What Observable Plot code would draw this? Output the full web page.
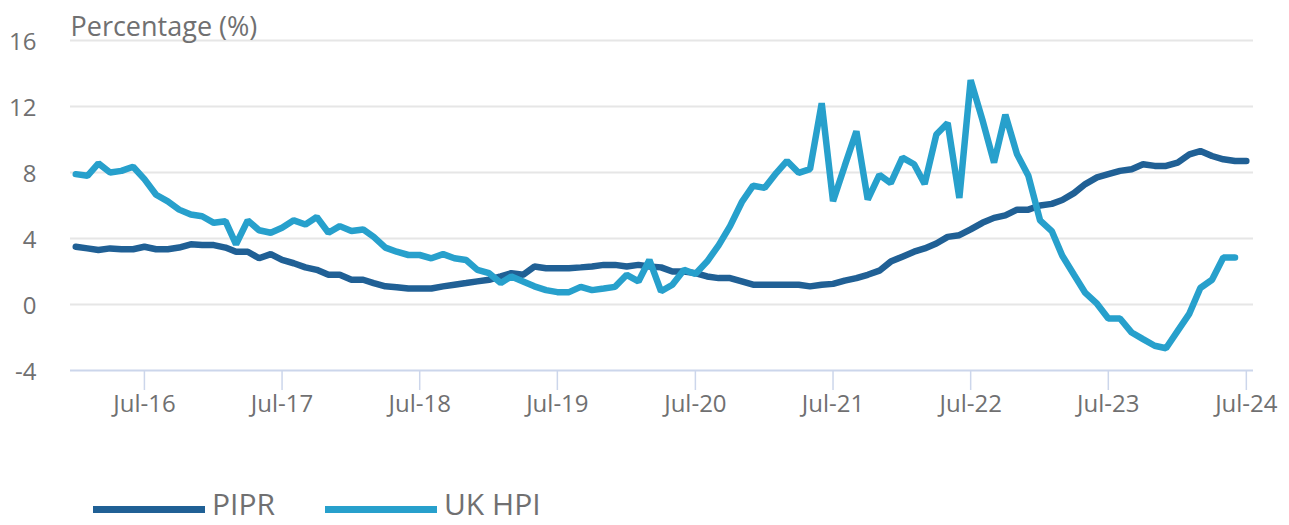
<!DOCTYPE html>
<html><head><meta charset="utf-8">
<script src="https://cdn.jsdelivr.net/npm/d3@7"></script>
<script src="https://cdn.jsdelivr.net/npm/@observablehq/plot@0.6"></script>
<style>
body{margin:0;background:#fff;font-family:"Open Sans",sans-serif;overflow:hidden;position:relative;height:525px;}
#chart{position:absolute;left:0;top:0;}
.sw{position:absolute;width:112px;height:7px;top:506px;}
.lt{position:absolute;top:483px;font-size:30px;line-height:normal;color:#707071;white-space:nowrap;}
</style></head><body><div id="chart"></div><div id="legend"></div>
<script>
const seriesNames = ["PIPR", "UK HPI"];
const seriesColors = ["#206095", "#27a0cc"];
// monthly, starting January 2016
const piprValues = [
  3.5, 3.4, 3.3, 3.4, 3.35, 3.35, 3.5, 3.35, 3.35, 3.45, 3.65, 3.6,
  3.6, 3.45, 3.2, 3.2, 2.8, 3.05, 2.7, 2.5, 2.25, 2.1, 1.8, 1.8,
  1.5, 1.5, 1.3, 1.1, 1.05, 0.97, 0.97, 0.97, 1.1, 1.2, 1.3, 1.4,
  1.5, 1.7, 1.9, 1.8, 2.3, 2.2, 2.2, 2.2, 2.25, 2.3, 2.4, 2.4,
  2.3, 2.4, 2.3, 2.25, 2.0, 2.0, 1.9, 1.7, 1.6, 1.6, 1.4, 1.2,
  1.2, 1.2, 1.2, 1.2, 1.1, 1.2, 1.25, 1.45, 1.6, 1.8, 2.05, 2.6,
  2.9, 3.2, 3.4, 3.7, 4.1, 4.2, 4.55, 4.95, 5.25, 5.4, 5.75, 5.75,
  6.0, 6.1, 6.33, 6.75, 7.3, 7.7, 7.9, 8.1, 8.2, 8.5, 8.4, 8.4,
  8.6, 9.1, 9.3, 9.0, 8.8, 8.7, 8.7
];
const ukHpiValues = [
  7.9, 7.8, 8.55, 8.0, 8.1, 8.35, 7.6, 6.65, 6.25, 5.75, 5.45, 5.35,
  4.95, 5.05, 3.65, 5.1, 4.5, 4.35, 4.65, 5.1, 4.85, 5.3, 4.35, 4.75,
  4.45, 4.55, 4.1, 3.45, 3.2, 3.0, 3.0, 2.8, 3.05, 2.8, 2.7, 2.1,
  1.9, 1.3, 1.7, 1.4, 1.1, 0.87, 0.75, 0.75, 1.07, 0.87, 0.97, 1.07,
  1.8, 1.4, 2.7, 0.8, 1.2, 2.1, 1.85, 2.6, 3.6, 4.75, 6.2, 7.2,
  7.07, 7.98, 8.7, 7.98, 8.2, 12.2, 6.26, 8.4, 10.5, 6.36, 7.85, 7.35,
  8.9, 8.5, 7.3, 10.3, 11.0, 6.46, 13.6, 11.2, 8.6, 11.5, 9.1, 7.8,
  5.1, 4.45, 2.95, 1.8, 0.7, 0.05, -0.85, -0.85, -1.7, -2.1, -2.5, -2.65,
  -1.6, -0.55, 1.0, 1.5, 2.85, 2.85
];
const yTicks = [-4, 0, 4, 8, 12, 16];
const xTickYears = [2016, 2017, 2018, 2019, 2020, 2021, 2022, 2023, 2024];
const yTitle = "Percentage (%)";

const monthDate = i => new Date(Date.UTC(2016, i, 1));
const data = [
  ...piprValues.map((v, i) => ({series: seriesNames[0], date: monthDate(i), value: v})),
  ...ukHpiValues.map((v, i) => ({series: seriesNames[1], date: monthDate(i), value: v}))
];
const xTicks = xTickYears.map(y => new Date(Date.UTC(y, 6, 1)));
const textColor = "#707071";

const chart = Plot.plot({
  width: 1289,
  height: 480,
  marginLeft: 70,
  marginRight: 36,
  marginTop: 40,
  marginBottom: 110,
  style: {fontFamily: "'Open Sans', sans-serif", fontSize: "24px", color: textColor, background: "transparent"},
  x: {type: "utc", domain: [new Date(Date.UTC(2015, 11, 18)), new Date(Date.UTC(2024, 6, 20))]},
  y: {domain: [-4, 16]},
  color: {domain: seriesNames, range: seriesColors},
  marks: [
    Plot.gridY(yTicks.filter(d => d > -4), {stroke: "#e6e6e6", strokeOpacity: 1, strokeWidth: 2}),
    Plot.ruleY([-4], {stroke: "#ccd6eb", strokeWidth: 2}),
    Plot.axisY({ticks: yTicks, tickFormat: d => String(d), tickSize: 0, tickPadding: 34, label: null, fill: textColor, dy: 2}),
    Plot.axisX({ticks: xTicks, tickFormat: d3.utcFormat("%b-%y"), tickSize: 20, tickPadding: 4, label: null, stroke: "#ccd6eb", strokeWidth: 1.5, fill: textColor}),
    Plot.lineY(data, {x: "date", y: "value", z: "series", stroke: "series", strokeWidth: 6.5, strokeLinejoin: "miter"}),
    Plot.text([yTitle], {frameAnchor: "top-left", lineAnchor: "bottom", dy: -5, fontSize: 27, fill: textColor})
  ]
});
document.getElementById("chart").appendChild(chart);

const legend = document.getElementById("legend");
const swatchLefts = [93, 325];
seriesNames.forEach((name, i) => {
  const sw = document.createElement("div");
  sw.className = "sw";
  sw.style.left = swatchLefts[i] + "px";
  sw.style.background = seriesColors[i];
  const t = document.createElement("span");
  t.className = "lt";
  t.style.left = (swatchLefts[i] + 119) + "px";
  t.textContent = name;
  legend.appendChild(sw);
  legend.appendChild(t);
});
</script>
</body></html>
